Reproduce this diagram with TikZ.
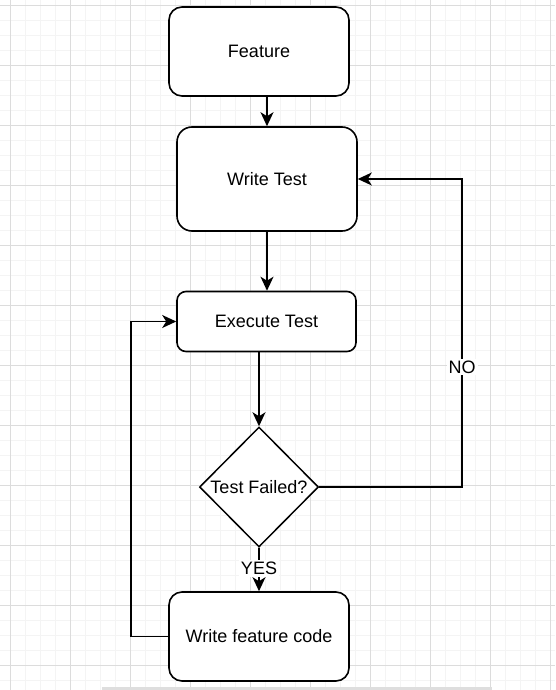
\documentclass[tikz,border=0pt]{standalone}
\usepackage{fontspec}
\setmainfont{Liberation Sans}
\usetikzlibrary{shapes.geometric,arrows.meta}
\definecolor{gridminor}{HTML}{F4F4F4}
\definecolor{gridmajor}{HTML}{DCDCDC}
\definecolor{scrollbar}{HTML}{DEDEDE}
\begin{document}
\begin{tikzpicture}[x=1pt,y=-1pt,
  every node/.style={font=\fontsize{18}{21}\selectfont},
  box/.style={draw=black,line width=1.6pt,fill=white,inner sep=0pt},
  decision/.style={draw=black,line width=1.5pt,fill=white,diamond,aspect=1,inner sep=0pt,minimum width=119pt,minimum height=120pt},
  conn/.style={draw=black,line width=1.6pt,-{Stealth[length=14pt,width=13pt,inset=4pt]}},
  lbl/.style={fill=white,inner sep=2pt}]
\useasboundingbox (0,0) rectangle (555,690);
\fill[white] (0,0) rectangle (555,690);
% grid
\foreach \x in {-5,10,...,555} \draw[gridminor,line width=0.8pt] (\x,0) -- (\x,690);
\foreach \y in {5,20,...,690} \draw[gridminor,line width=0.8pt] (0,\y) -- (555,\y);
\foreach \x in {10,70,...,555} \draw[gridmajor,line width=0.9pt] (\x,0) -- (\x,690);
\foreach \y in {5,65,...,690} \draw[gridmajor,line width=0.9pt] (0,\y) -- (555,\y);
\fill[scrollbar] (102,687) rectangle (492,690);
% nodes
\node[box,rounded corners=13pt,minimum width=180pt,minimum height=89pt] (feature) at (259,51.5) {Feature};
\node[box,rounded corners=15pt,minimum width=180pt,minimum height=104pt] (write) at (267,179) {Write Test};
\node[box,rounded corners=9pt,minimum width=179pt,minimum height=60pt] (exec) at (266.5,321.5) {Execute Test};
\node[decision] (dec) at (259,487) {};
\node at (dec.center) {Test Failed?};
\node[box,rounded corners=13pt,minimum width=180pt,minimum height=89pt] (code) at (259,636.5) {Write feature code};
% connectors
\coordinate (fb) at (267,96);
\draw[conn] (fb) -- (write.north);
\draw[conn] (write.south) -- (write.south |- exec.north);
\coordinate (es) at (259,352);
\draw[conn] (es) -- (dec.north);
\draw[conn] (dec.south) -- node[lbl,pos=0.47] {YES} (code.north);
\draw[conn] (dec.east) -- (462,487) -- node[lbl,pos=0.39] {NO} (462,179) -- (write.east);
\coordinate (lc) at (131,636.5);
\draw[conn] (code.west) -- (lc) |- (exec.west);
\end{tikzpicture}
\end{document}
